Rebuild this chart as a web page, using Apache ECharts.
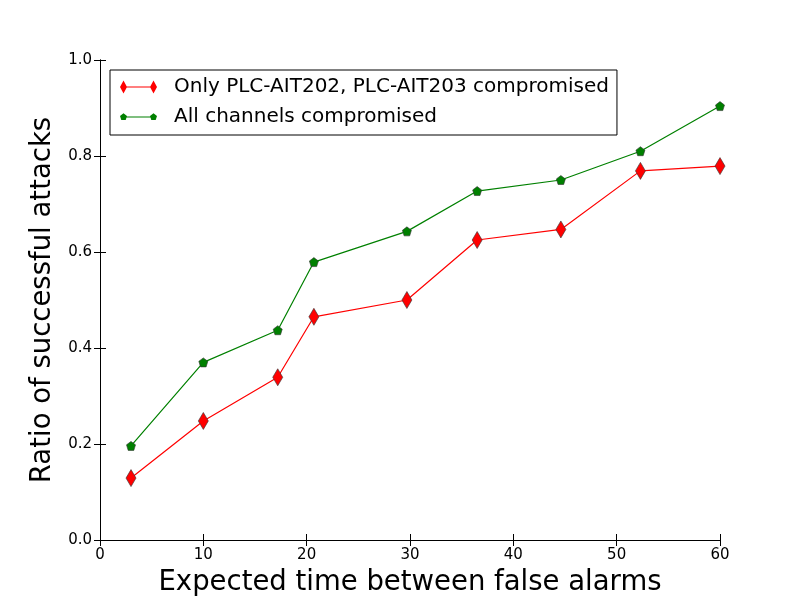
<!DOCTYPE html>
<html>
<head>
<meta charset="utf-8">
<script src="https://cdn.jsdelivr.net/npm/echarts@6/dist/echarts.min.js"></script>
<style>
  html, body { margin: 0; padding: 0; background: #fff; }
  #chart { width: 800px; height: 600px; }
</style>
</head>
<body>
<div id="chart"></div>
<script>
const xValues = [3.0, 10.0, 17.2, 20.7, 29.7, 36.5, 44.6, 52.3, 60.0]
const onlyTwoChannels = [0.129, 0.248, 0.339, 0.465, 0.500, 0.625, 0.647, 0.769, 0.779]
const allChannels = [0.196, 0.370, 0.437, 0.579, 0.643, 0.727, 0.750, 0.810, 0.904]
const seriesNames = ['Only PLC-AIT202, PLC-AIT203 compromised', 'All channels compromised']

const FONT = 'DejaVu Sans'
const pentagon = 'path://M0,-1 L0.951,-0.309 L0.588,0.809 L-0.588,0.809 L-0.951,-0.309 Z'

// legend samples drawn like matplotlib: a short line with a marker at each end (37x14 box)
const box = 'M0,0 L0.01,0 L0,0.01 Z M37,14 L36.99,14 L37,13.99 Z '
const legendDiamond = 'path://' + box +
  'M0,7 L3.5,0.5 L7,7 L3.5,13.5 Z M30,7 L33.5,0.5 L37,7 L33.5,13.5 Z M3.5,6.4 L33.5,6.4 L33.5,7.6 L3.5,7.6 Z'
const legendPentagon = 'path://' + box +
  'M3.5,3.3 L7,5.9 L5.7,10 L1.3,10 L0,5.9 Z M33.5,3.3 L37,5.9 L35.7,10 L31.3,10 L30,5.9 Z M3.5,6.4 L33.5,6.4 L33.5,7.6 L3.5,7.6 Z'

const chart = echarts.init(document.getElementById('chart'))

const pairs = (ys) => xValues.map((x, i) => [x, ys[i]])

const tickStyle = { show: true, inside: true, length: 6, lineStyle: { color: '#000', width: 1 } }
const lineAxis = { show: true, lineStyle: { color: '#000', width: 1 } }

const option = {
  animation: false,
  backgroundColor: '#fff',
  textStyle: { fontFamily: FONT },
  grid: { left: 100, right: 80, top: 60, bottom: 60, containLabel: false, outerBoundsMode: 'none' },
  legend: {
    left: 110,
    top: 70,
    orient: 'vertical',
    borderColor: '#000',
    borderWidth: 1,
    padding: [7, 8, 8, 10],
    itemWidth: 37,
    itemHeight: 14,
    itemGap: 10,
    textStyle: { fontFamily: FONT, fontSize: 20, color: '#000', padding: [0, 0, 0, 12] },
    data: [
      { name: seriesNames[0], icon: legendDiamond, itemStyle: { borderWidth: 0 } },
      { name: seriesNames[1], icon: legendPentagon, itemStyle: { borderWidth: 0 } }
    ]
  },
  xAxis: [
    {
      type: 'value', min: 0, max: 60, interval: 10, position: 'bottom',
      name: 'Expected time between false alarms', nameLocation: 'middle', nameGap: 29,
      nameTextStyle: { fontFamily: FONT, fontSize: 27.5, color: '#000' },
      axisLine: lineAxis, axisTick: tickStyle, splitLine: { show: false },
      axisLabel: { color: '#000', fontSize: 15, fontFamily: FONT, margin: 8 }
    },
    {
      type: 'value', min: 0, max: 60, interval: 10, position: 'top',
      axisLine: lineAxis, axisTick: tickStyle, splitLine: { show: false },
      axisLabel: { show: false }
    }
  ],
  yAxis: [
    {
      type: 'value', min: 0, max: 1, interval: 0.2, position: 'left',
      name: 'Ratio of successful attacks', nameLocation: 'middle', nameGap: 38,
      nameTextStyle: { fontFamily: FONT, fontSize: 27.5, color: '#000' },
      axisLine: lineAxis, axisTick: tickStyle, splitLine: { show: false },
      axisLabel: { color: '#000', fontSize: 15, fontFamily: FONT, margin: 8, formatter: v => v.toFixed(1) }
    },
    {
      type: 'value', min: 0, max: 1, interval: 0.2, position: 'right',
      axisLine: lineAxis, axisTick: tickStyle, splitLine: { show: false },
      axisLabel: { show: false }
    }
  ],
  series: [
    {
      name: seriesNames[0],
      type: 'line',
      data: pairs(onlyTwoChannels),
      symbol: 'diamond',
      symbolSize: [10, 17],
      showAllSymbol: true,
      lineStyle: { color: '#ff0000', width: 1.2 },
      itemStyle: { color: '#ff0000', borderColor: '#333', borderWidth: 0.6 },
      z: 3
    },
    {
      name: seriesNames[1],
      type: 'line',
      data: pairs(allChannels),
      symbol: pentagon,
      symbolSize: 9,
      showAllSymbol: true,
      lineStyle: { color: '#008000', width: 1.2 },
      itemStyle: { color: '#008000', borderColor: '#333', borderWidth: 0.6 },
      z: 2
    }
  ]
}

chart.setOption(option)
</script>
</body>
</html>
